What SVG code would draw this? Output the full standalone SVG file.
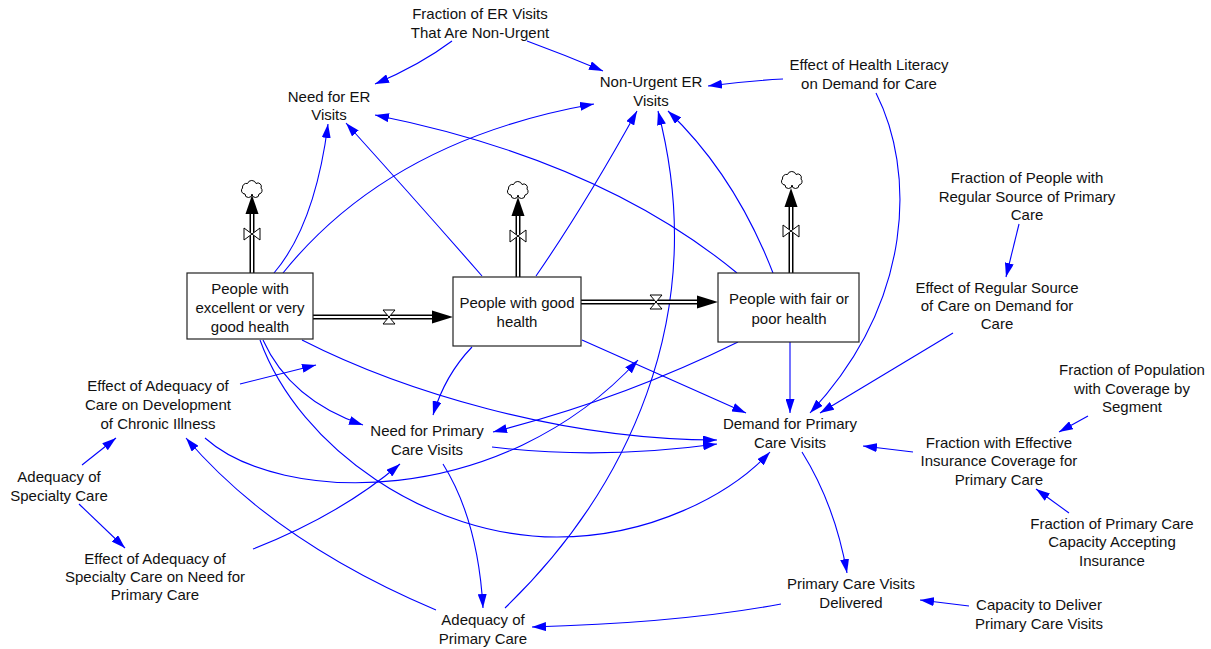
<svg xmlns="http://www.w3.org/2000/svg" xmlns:xlink="http://www.w3.org/1999/xlink" width="1211" height="649" viewBox="0 0 1211 649">
<style>
text{font-family:"Liberation Sans",Arial,sans-serif;font-size:15px;fill:#111;text-anchor:middle}
.lk{fill:none;stroke:#0000ff;stroke-width:1.1;marker-end:url(#ah)}
.stock{fill:#fff;stroke:#222;stroke-width:1.2}
.pipeo{fill:none;stroke:#000;stroke-width:5}
.pipei{fill:none;stroke:#fff;stroke-width:2}
.valve{fill:#fff;stroke:#000;stroke-width:1}
.fhead{fill:#000}
.cloud{fill:#fff;stroke:#000;stroke-width:1}
</style>
<defs>
<marker id="ah" viewBox="0 0 14 9" refX="14" refY="4.5" markerWidth="14" markerHeight="9" orient="auto" markerUnits="userSpaceOnUse"><path d="M0,0L14,4.5L0,9z" fill="#0000ff"/></marker>
<path id="cl" d="M-7,5 a3.5,3.5 0 0 1 -2.5,-6 a4,4 0 0 1 5,-4.5 a4.5,4.5 0 0 1 8.5,0 a3.5,3.5 0 0 1 5,4.5 a3.5,3.5 0 0 1 -2,6 a3.5,3.5 0 0 1 -7,0 a3.5,3.5 0 0 1 -7,0 z"/>
</defs>
<rect width="1211" height="649" fill="#fff"/>

<g id="links">
<path class="lk" d="M452,41 Q420,65 375,84"/>
<path class="lk" d="M527,41 Q565,55 603,71"/>
<path class="lk" d="M783,79 Q745,81 708,86"/>
<path class="lk" d="M876,93 C915,170 915,300 810,413"/>
<path class="lk" d="M1019,224 L1006,277"/>
<path class="lk" d="M953,333 L820,413"/>
<path class="lk" d="M1088,416 L1059,432"/>
<path class="lk" d="M1069,513 L1036,489"/>
<path class="lk" d="M913,452 L863,446"/>
<path class="lk" d="M802,452 Q835,505 847,573"/>
<path class="lk" d="M969,606 L920,600"/>
<path class="lk" d="M781,604 Q680,623 532,627"/>
<path class="lk" d="M443,464 Q478,520 483,608"/>
<path class="lk" d="M436,610 Q275,542 186,438"/>
<path class="lk" d="M505,608 C625,492 712,318 658,111"/>
<path class="lk" d="M253,549 Q340,515 400,464"/>
<path class="lk" d="M82,465 L116,438"/>
<path class="lk" d="M79,504 L125,548"/>
<path class="lk" d="M240,384 L316,365"/>
<path class="lk" d="M205,438 C280,505 500,510 638,360"/>
<path class="lk" d="M274,273 Q315,225 328,124"/>
<path class="lk" d="M283,273 Q390,140 594,104"/>
<path class="lk" d="M482,276 Q420,205 346,123"/>
<path class="lk" d="M536,276 Q585,205 637,111"/>
<path class="lk" d="M737,273 Q600,160 375,115"/>
<path class="lk" d="M773,273 Q735,175 668,111"/>
<path class="lk" d="M263,340 Q290,400 363,425"/>
<path class="lk" d="M260,340 C300,450 430,537 557,537 C650,537 730,495 770,452"/>
<path class="lk" d="M302,340 C400,390 560,440 717,440"/>
<path class="lk" d="M472,347 Q445,375 433,415"/>
<path class="lk" d="M582,340 L746,413"/>
<path class="lk" d="M738,342 Q620,400 493,432"/>
<path class="lk" d="M790,342 L790,413"/>
<path class="lk" d="M492,447 Q600,460 717,444"/>
</g>

<g id="flows">
<g id="flow_excellent_to_good">
<path class="pipeo" d="M313,317 H433"/><path class="pipei" d="M313,317 H433"/>
<polygon class="fhead" points="453,317 432,310.5 432,323.5"/>
<path class="valve" d="M383,310 L395,310 L383,324 L395,324 Z"/>
</g>
<g id="flow_good_to_fair">
<path class="pipeo" d="M581,302 H698"/><path class="pipei" d="M581,302 H698"/>
<polygon class="fhead" points="718,302 697,295.5 697,308.5"/>
<path class="valve" d="M650,295 L662,295 L650,309 L662,309 Z"/>
</g>
<g id="flow_excellent_out">
<path class="pipeo" d="M252,273 V212"/><path class="pipei" d="M252,273 V212"/>
<polygon class="fhead" points="252,195 245.5,214 258.5,214"/>
<path class="valve" d="M244,228 L260,240 L260,228 L244,240 Z"/>
</g>
<g id="flow_good_out">
<path class="pipeo" d="M518,277 V214"/><path class="pipei" d="M518,277 V214"/>
<polygon class="fhead" points="518,197 511.5,216 524.5,216"/>
<path class="valve" d="M510,230 L526,242 L526,230 L510,242 Z"/>
</g>
<g id="flow_fair_out">
<path class="pipeo" d="M791,273 V206"/><path class="pipei" d="M791,273 V206"/>
<polygon class="fhead" points="791,188 784.5,207 797.5,207"/>
<path class="valve" d="M783,225 L799,237 L799,225 L783,237 Z"/>
</g>
</g>

<g id="cloud1"><use xlink:href="#cl" href="#cl" class="cloud" x="252" y="189"/></g>
<g id="cloud2"><use xlink:href="#cl" href="#cl" class="cloud" x="518" y="190"/></g>
<g id="cloud3"><use xlink:href="#cl" href="#cl" class="cloud" x="792" y="180"/></g>

<g id="stock_excellent">
<rect class="stock" x="187" y="273" width="126" height="66"/>
<text x="250" y="294">People with</text><text x="250" y="313">excellent or very</text><text x="250" y="332">good health</text>
</g>
<g id="stock_good">
<rect class="stock" x="453" y="277" width="128" height="69"/>
<text x="517" y="308">People with good</text><text x="517" y="327">health</text>
</g>
<g id="stock_fair">
<rect class="stock" x="718" y="273" width="141" height="69"/>
<text x="789" y="304">People with fair or</text><text x="789" y="324">poor health</text>
</g>

<g id="n_frac_er"><text x="480" y="19">Fraction of ER Visits</text><text x="480" y="38">That Are Non-Urgent</text></g>
<g id="n_need_er"><text x="329" y="102">Need for ER</text><text x="329" y="120">Visits</text></g>
<g id="n_nonurgent"><text x="651" y="87">Non-Urgent ER</text><text x="651" y="106">Visits</text></g>
<g id="n_health_lit"><text x="869" y="70">Effect of Health Literacy</text><text x="869" y="89">on Demand for Care</text></g>
<g id="n_frac_regular"><text x="1027" y="183">Fraction of People with</text><text x="1027" y="202">Regular Source of Primary</text><text x="1027" y="220">Care</text></g>
<g id="n_eff_regular"><text x="997" y="293">Effect of Regular Source</text><text x="997" y="311">of Care on Demand for</text><text x="997" y="329">Care</text></g>
<g id="n_frac_pop"><text x="1132" y="375">Fraction of Population</text><text x="1132" y="394">with Coverage by</text><text x="1132" y="412">Segment</text></g>
<g id="n_demand"><text x="790" y="429">Demand for Primary</text><text x="790" y="448">Care Visits</text></g>
<g id="n_frac_eff_ins"><text x="999" y="448">Fraction with Effective</text><text x="999" y="466">Insurance Coverage for</text><text x="999" y="485">Primary Care</text></g>
<g id="n_frac_pc_cap"><text x="1112" y="529">Fraction of Primary Care</text><text x="1112" y="547">Capacity Accepting</text><text x="1112" y="566">Insurance</text></g>
<g id="n_pcv_delivered"><text x="851" y="589">Primary Care Visits</text><text x="851" y="608">Delivered</text></g>
<g id="n_cap_deliver"><text x="1039" y="610">Capacity to Deliver</text><text x="1039" y="629">Primary Care Visits</text></g>
<g id="n_adeq_pc"><text x="483" y="625">Adequacy of</text><text x="483" y="644">Primary Care</text></g>
<g id="n_need_pc"><text x="427" y="436">Need for Primary</text><text x="427" y="455">Care Visits</text></g>
<g id="n_eff_adeq_chronic"><text x="158" y="391">Effect of Adequacy of</text><text x="158" y="410">Care on Development</text><text x="158" y="429">of Chronic Illness</text></g>
<g id="n_adeq_spec"><text x="59" y="482">Adequacy of</text><text x="59" y="501">Specialty Care</text></g>
<g id="n_eff_spec"><text x="155" y="564">Effect of Adequacy of</text><text x="155" y="582">Specialty Care on Need for</text><text x="155" y="600">Primary Care</text></g>
</svg>
